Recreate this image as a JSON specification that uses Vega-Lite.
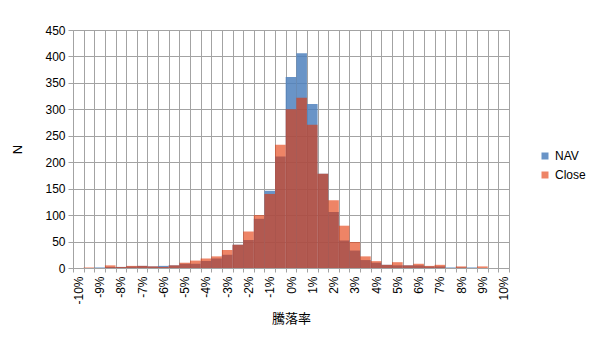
{
  "$schema": "https://vega.github.io/schema/vega-lite/v6.json",
  "width": 436,
  "height": 238,
  "autosize": "none",
  "padding": {"left": 73, "top": 30, "right": 91, "bottom": 69},
  "background": "white",
  "config": {
    "font": "Liberation Sans",
    "view": {"stroke": null},
    "axis": {
      "gridColor": "#a3a3a3",
      "gridOpacity": 1,
      "domainColor": "#a3a3a3",
      "tickColor": "#a3a3a3",
      "labelColor": "#000000",
      "labelFontSize": 12,
      "labelFont": "Liberation Sans",
      "titleColor": "#000000",
      "titleFontWeight": "normal",
      "titleFontSize": 13
    }
  },
  "data": {
    "values": [
      {"bin": -10, "series": "NAV", "n": 0},
      {"bin": -9.5, "series": "NAV", "n": 0},
      {"bin": -9, "series": "NAV", "n": 1},
      {"bin": -8.5, "series": "NAV", "n": 2},
      {"bin": -8, "series": "NAV", "n": 2},
      {"bin": -7.5, "series": "NAV", "n": 3},
      {"bin": -7, "series": "NAV", "n": 4},
      {"bin": -6.5, "series": "NAV", "n": 3},
      {"bin": -6, "series": "NAV", "n": 4},
      {"bin": -5.5, "series": "NAV", "n": 5},
      {"bin": -5, "series": "NAV", "n": 8},
      {"bin": -4.5, "series": "NAV", "n": 8},
      {"bin": -4, "series": "NAV", "n": 13},
      {"bin": -3.5, "series": "NAV", "n": 18},
      {"bin": -3, "series": "NAV", "n": 25},
      {"bin": -2.5, "series": "NAV", "n": 44},
      {"bin": -2, "series": "NAV", "n": 53},
      {"bin": -1.5, "series": "NAV", "n": 93},
      {"bin": -1, "series": "NAV", "n": 146},
      {"bin": -0.5, "series": "NAV", "n": 211},
      {"bin": 0, "series": "NAV", "n": 361},
      {"bin": 0.5, "series": "NAV", "n": 406},
      {"bin": 1, "series": "NAV", "n": 310},
      {"bin": 1.5, "series": "NAV", "n": 178},
      {"bin": 2, "series": "NAV", "n": 106},
      {"bin": 2.5, "series": "NAV", "n": 52},
      {"bin": 3, "series": "NAV", "n": 33},
      {"bin": 3.5, "series": "NAV", "n": 15},
      {"bin": 4, "series": "NAV", "n": 10},
      {"bin": 4.5, "series": "NAV", "n": 6},
      {"bin": 5, "series": "NAV", "n": 5},
      {"bin": 5.5, "series": "NAV", "n": 5},
      {"bin": 6, "series": "NAV", "n": 5},
      {"bin": 6.5, "series": "NAV", "n": 3},
      {"bin": 7, "series": "NAV", "n": 3},
      {"bin": 7.5, "series": "NAV", "n": 1},
      {"bin": 8, "series": "NAV", "n": 1},
      {"bin": 8.5, "series": "NAV", "n": 1},
      {"bin": 9, "series": "NAV", "n": 0},
      {"bin": 9.5, "series": "NAV", "n": 0},
      {"bin": 10, "series": "NAV", "n": 0},
      {"bin": -10, "series": "Close", "n": 0},
      {"bin": -9.5, "series": "Close", "n": 1},
      {"bin": -9, "series": "Close", "n": 0},
      {"bin": -8.5, "series": "Close", "n": 5},
      {"bin": -8, "series": "Close", "n": 2},
      {"bin": -7.5, "series": "Close", "n": 4},
      {"bin": -7, "series": "Close", "n": 4},
      {"bin": -6.5, "series": "Close", "n": 3},
      {"bin": -6, "series": "Close", "n": 2},
      {"bin": -5.5, "series": "Close", "n": 5},
      {"bin": -5, "series": "Close", "n": 10},
      {"bin": -4.5, "series": "Close", "n": 14},
      {"bin": -4, "series": "Close", "n": 18},
      {"bin": -3.5, "series": "Close", "n": 22},
      {"bin": -3, "series": "Close", "n": 34},
      {"bin": -2.5, "series": "Close", "n": 44},
      {"bin": -2, "series": "Close", "n": 69},
      {"bin": -1.5, "series": "Close", "n": 100},
      {"bin": -1, "series": "Close", "n": 140},
      {"bin": -0.5, "series": "Close", "n": 233},
      {"bin": 0, "series": "Close", "n": 300},
      {"bin": 0.5, "series": "Close", "n": 322},
      {"bin": 1, "series": "Close", "n": 271},
      {"bin": 1.5, "series": "Close", "n": 178},
      {"bin": 2, "series": "Close", "n": 128},
      {"bin": 2.5, "series": "Close", "n": 80},
      {"bin": 3, "series": "Close", "n": 49},
      {"bin": 3.5, "series": "Close", "n": 22},
      {"bin": 4, "series": "Close", "n": 13},
      {"bin": 4.5, "series": "Close", "n": 6},
      {"bin": 5, "series": "Close", "n": 11},
      {"bin": 5.5, "series": "Close", "n": 5},
      {"bin": 6, "series": "Close", "n": 8},
      {"bin": 6.5, "series": "Close", "n": 4},
      {"bin": 7, "series": "Close", "n": 6},
      {"bin": 7.5, "series": "Close", "n": 0},
      {"bin": 8, "series": "Close", "n": 3},
      {"bin": 8.5, "series": "Close", "n": 0},
      {"bin": 9, "series": "Close", "n": 3},
      {"bin": 9.5, "series": "Close", "n": 0},
      {"bin": 10, "series": "Close", "n": 0}
    ]
  },
  "mark": {"type": "bar", "strokeWidth": 0},
  "encoding": {
    "x": {
      "field": "bin",
      "type": "ordinal",
      "scale": {"paddingInner": 0, "paddingOuter": 0},
      "axis": {
        "tickBand": "extent",
        "grid": true,
        "tickSize": 4,
        "labelAngle": -90,
        "labelPadding": 4,
        "labelExpr": "datum.value % 1 === 0 ? datum.value + '%' : ''",
        "title": "騰落率",
        "titleFont": "Noto Sans CJK JP",
        "titlePadding": 8
      }
    },
    "y": {
      "field": "n",
      "type": "quantitative",
      "stack": null,
      "scale": {"domain": [0, 450], "nice": false},
      "axis": {
        "values": [0, 50, 100, 150, 200, 250, 300, 350, 400, 450],
        "tickSize": 5,
        "labelPadding": 3,
        "title": "N",
        "titlePadding": 20
      }
    },
    "color": {
      "field": "series",
      "type": "nominal",
      "scale": {
        "domain": ["NAV", "Close"],
        "range": ["rgba(79,129,189,0.85)", "rgba(227,50,0,0.6)"]
      },
      "legend": {
        "title": null,
        "orient": "none",
        "legendX": 466,
        "legendY": 120,
        "symbolType": "square",
        "symbolSize": 49,
        "symbolStrokeWidth": 0,
        "labelFontSize": 12,
        "labelFont": "Liberation Sans",
        "labelColor": "#000000",
        "rowPadding": 7
      }
    }
  }
}
